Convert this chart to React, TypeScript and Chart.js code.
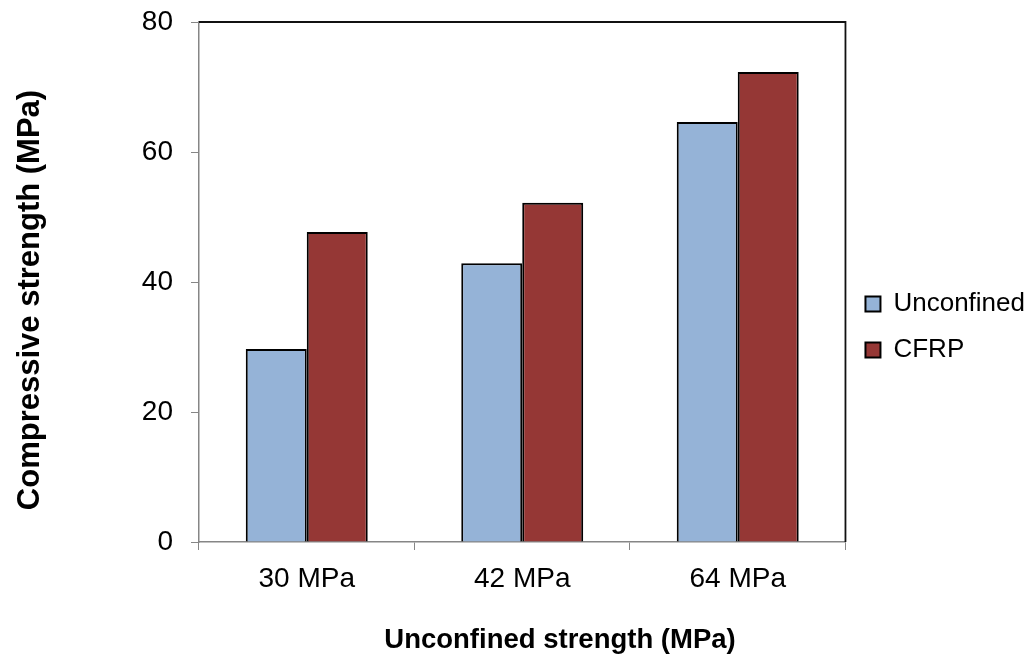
import React, { useEffect, useRef } from "react";
import { Chart, registerables } from "chart.js";

Chart.register(...registerables);

const categories = ["30 MPa", "42 MPa", "64 MPa"];
const unconfined = [29.7, 42.9, 64.6];
const cfrp = [47.7, 52.2, 72.3];
const yTicks = [0, 20, 40, 60, 80];
const seriesNames = ["Unconfined", "CFRP"];
const xTitle = "Unconfined strength (MPa)";
const yTitle = "Compressive strength (MPa)";

const FONT = "'Liberation Sans', Arial, sans-serif";

export default function App() {
  const ref = useRef<HTMLCanvasElement>(null);
  useEffect(() => {
    document.body.style.margin = "0";
    const canvas = ref.current!;
    const titlePlugin = {
      id: "axisTitles",
      afterDraw(chart: any) {
        const ctx = chart.ctx;
        ctx.save();
        ctx.fillStyle = "#000";
        ctx.textAlign = "center";
        ctx.textBaseline = "middle";
        ctx.font = `bold 27.5px ${FONT}`;
        ctx.fillText(xTitle, 560, 640);
        ctx.translate(30, 300);
        ctx.rotate(-Math.PI / 2);
        ctx.font = `bold 31px ${FONT}`;
        ctx.fillText(yTitle, 0, 0);
        ctx.restore();
        const a = chart.chartArea;
        ctx.save();
        ctx.strokeStyle = "#111";
        ctx.lineWidth = 1.8;
        ctx.beginPath();
        ctx.moveTo(a.left, a.top);
        ctx.lineTo(a.right, a.top);
        ctx.lineTo(a.right, a.bottom);
        ctx.stroke();
        ctx.restore();
      },
    };
    const chart = new Chart(canvas, {
      type: "bar",
      data: {
        labels: categories,
        datasets: [
          {
            label: seriesNames[0],
            data: unconfined,
            backgroundColor: "#95B3D7",
            borderColor: "#000",
            borderWidth: 2,
            categoryPercentage: 0.566,
            barPercentage: 1,
          },
          {
            label: seriesNames[1],
            data: cfrp,
            backgroundColor: "#953735",
            borderColor: "#000",
            borderWidth: 2,
            categoryPercentage: 0.566,
            barPercentage: 1,
          },
        ],
      },
      options: {
        animation: false,
        responsive: false,
        devicePixelRatio: 1,
        layout: { padding: { left: 140, top: 22, bottom: 26, right: -5 } },
        plugins: {
          tooltip: { enabled: false },
          title: { display: false },
          legend: {
            position: "right",
            labels: {
              boxWidth: 15,
              boxHeight: 15,
              padding: 20,
              color: "#000",
              font: { family: FONT, size: 26 },
            },
          },
        },
        scales: {
          x: {
            afterFit: (s: any) => {
              s.height = 90;
              s.paddingLeft = 0;
              s.paddingRight = 0;
            },
            grid: {
              display: true,
              drawOnChartArea: false,
              drawTicks: true,
              tickLength: 8,
              color: "#868686",
              offset: true,
            },
            border: { display: true, color: "#868686", width: 1.5 },
            ticks: { color: "#000", font: { family: FONT, size: 28 }, padding: 12 },
          },
          y: {
            min: 0,
            max: 80,
            afterFit: (s: any) => {
              s.width = 59;
              s.paddingTop = 0;
              s.paddingBottom = 0;
            },
            afterBuildTicks: (s: any) => {
              s.ticks = yTicks.map((v) => ({ value: v }));
            },
            grid: {
              display: true,
              drawOnChartArea: false,
              drawTicks: true,
              tickLength: 8,
              color: "#868686",
            },
            border: { display: true, color: "#868686", width: 1.5 },
            ticks: { color: "#000", font: { family: FONT, size: 28 }, padding: 18 },
          },
        },
      },
      plugins: [titlePlugin],
    });
    return () => chart.destroy();
  }, []);
  return (
    <div style={{ width: 1030, height: 658 }}>
      <canvas ref={ref} width={1030} height={658} style={{ display: "block" }} />
    </div>
  );
}
